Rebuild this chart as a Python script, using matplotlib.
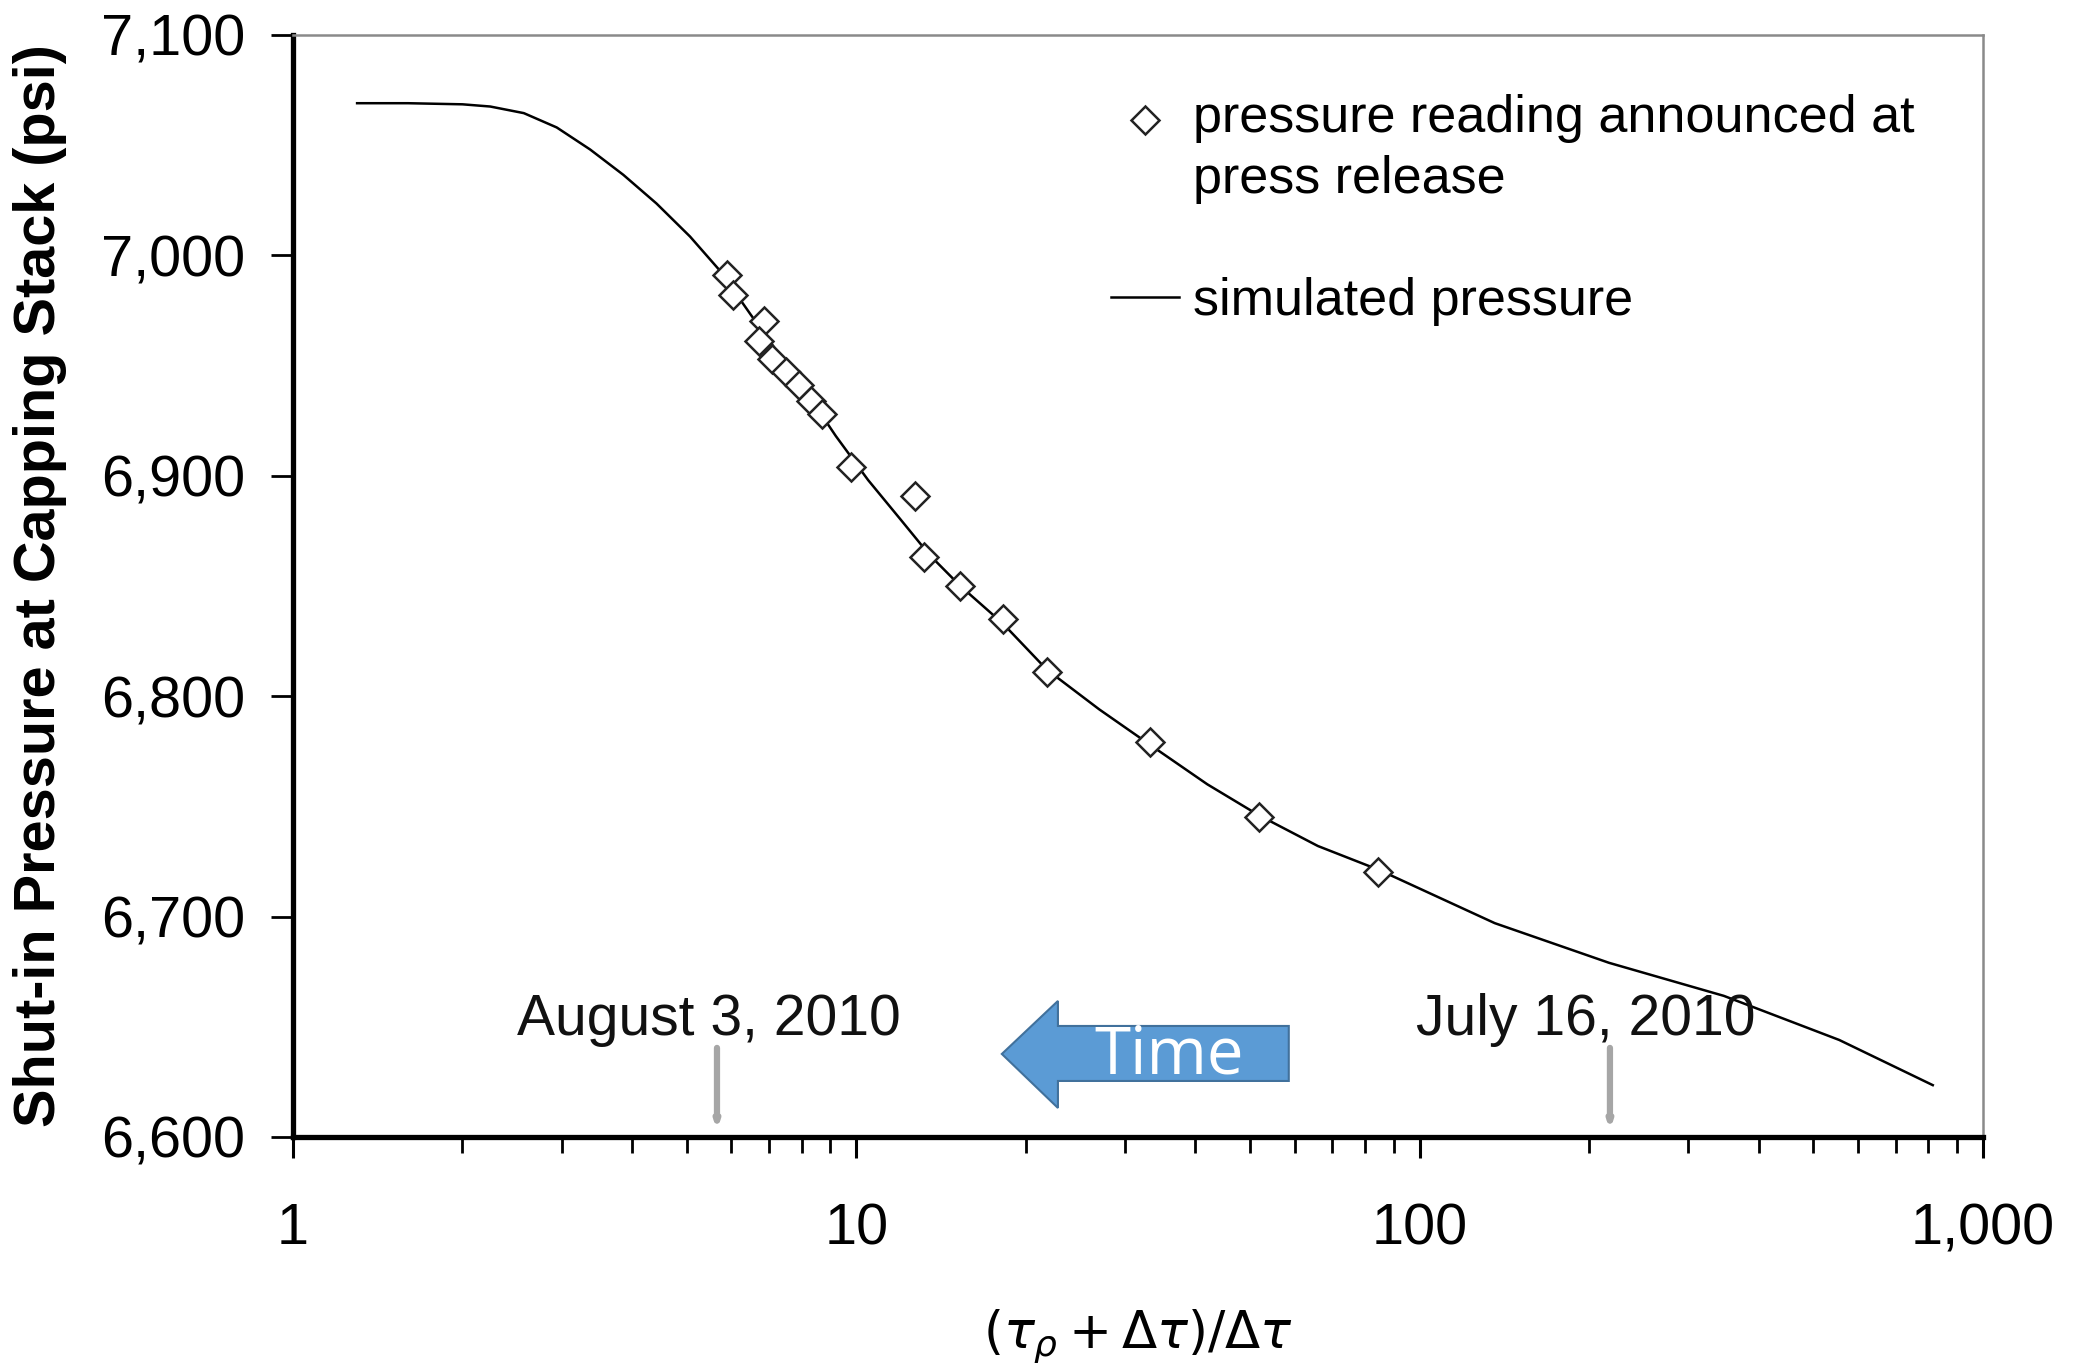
import numpy as np
import matplotlib.pyplot as plt
from matplotlib.legend_handler import HandlerLine2D
from matplotlib.patches import Polygon
from matplotlib.ticker import FixedLocator, FuncFormatter, LogLocator, NullFormatter

plt.rcParams['font.family'] = ['Liberation Sans', 'DejaVu Sans']
plt.rcParams['mathtext.fontset'] = 'dejavusans'

# Pressure readings announced at press releases
horner_obs = [5.9, 6.05, 6.85, 6.72, 7.1, 7.5, 7.9, 8.3, 8.7, 9.8,
              12.7, 13.2, 15.3, 18.2, 21.8, 33.2, 51.8, 84.4]
pressure_obs = [6991, 6982, 6970, 6961, 6953, 6947, 6941, 6934, 6928, 6904,
                6891, 6863, 6850, 6835, 6811, 6779, 6745, 6720]

# Simulated shut-in pressure
horner_sim = [1.3, 1.6, 2.0, 2.24, 2.57, 2.94, 3.37, 3.86, 4.42, 5.07, 5.73,
              6.5, 7.3, 8.2, 9.2, 10.5, 12.0, 13.5, 15.3, 18.2, 21.8, 27.0,
              33.2, 42.0, 51.8, 66.0, 85.0, 136, 217, 347, 556, 815]
pressure_sim = [7069, 7069, 7068.5, 7067.5, 7064.5, 7058, 7048, 7036.5, 7023.5,
                7008.5, 6993, 6973, 6955, 6937, 6918, 6898, 6880, 6864, 6850,
                6833, 6812, 6794, 6778, 6760, 6746, 6732, 6721, 6697, 6679,
                6664, 6644, 6623.5]

# Dates marked along the time axis
date_labels = ['August 3, 2010', 'July 16, 2010']
date_horner = [5.66, 217.8]
date_text_x = [5.48, 197.4]

y_ticks = [6600, 6700, 6800, 6900, 7000, 7100]
x_ticks = [1, 10, 100, 1000]


class FirstLineHandler(HandlerLine2D):
    """Put the legend marker next to the first line of a two-line label."""

    def __init__(self, shift, **kw):
        super().__init__(**kw)
        self.shift = shift

    def create_artists(self, legend, orig_handle, xdescent, ydescent,
                       width, height, fontsize, trans):
        return super().create_artists(legend, orig_handle, xdescent,
                                      ydescent - 2 * self.shift, width, height,
                                      fontsize, trans)


fig = plt.figure(figsize=(20.73, 13.68), dpi=100)
ax = fig.add_axes([0.1413, 0.1689, 0.8152, 0.8056])

line, = ax.plot(horner_sim, pressure_sim, color='black', lw=1.8,
                label='simulated pressure', zorder=3)
pts, = ax.plot(horner_obs, pressure_obs, linestyle='none', marker='D', ms=14,
               mfc='white', mec='#222222', mew=1.8,
               label='pressure reading announced at\npress release', zorder=4)

ax.set_xscale('log')
ax.set_xlim(1, 1000)
ax.set_ylim(6600, 7100)

ax.xaxis.set_major_locator(FixedLocator(x_ticks))
ax.xaxis.set_minor_locator(LogLocator(base=10, subs=np.arange(2, 10)))
ax.xaxis.set_minor_formatter(NullFormatter())
ax.xaxis.set_major_formatter(FuncFormatter(lambda v, p: f'{v:,.0f}'))
ax.yaxis.set_major_locator(FixedLocator(y_ticks))
ax.yaxis.set_major_formatter(FuncFormatter(lambda v, p: f'{v:,.0f}'))

ax.tick_params(axis='y', which='major', direction='out', length=15.8, width=2,
               pad=18.7, labelsize=41.5)
ax.tick_params(axis='x', which='major', direction='out', length=15, width=2.2,
               pad=32, labelsize=41.5)
ax.tick_params(axis='x', which='minor', direction='out', length=11.5, width=2)
ax.tick_params(top=False, right=False, which='both')

for side in ['left', 'bottom']:
    ax.spines[side].set_linewidth(3.8)
    ax.spines[side].set_color('black')
for side in ['top', 'right']:
    ax.spines[side].set_linewidth(1.8)
    ax.spines[side].set_color('#8a8a8a')

ax.set_ylabel('Shut-in Pressure at Capping Stack (psi)', fontsize=41.5,
              fontweight='bold', va='center')
ax.yaxis.set_label_coords(-0.1497, 0.5)
ax.set_xlabel(r'$(\tau_{\rho} + \Delta\tau)/\Delta\tau$', fontsize=37, va='center')
ax.xaxis.set_label_coords(0.5, -0.181)

# Legend: diamond entry first, then the simulated line
leg = ax.legend([pts, line], [pts.get_label(), line.get_label()],
                handler_map={pts: FirstLineHandler(shift=22)},
                loc='upper left', bbox_to_anchor=(0.472, 0.965),
                frameon=False, fontsize=37.5, handlelength=1.29,
                handletextpad=0.27, labelspacing=1.4, borderaxespad=0)
for t in leg.get_texts():
    t.set_linespacing(1.32)

# Date markers with arrows pointing down to the axis
for lab, xa, xt in zip(date_labels, date_horner, date_text_x):
    ax.text(xt, 6646.3, lab, fontsize=41, ha='center', va='baseline', color='#111111')
    ax.annotate('', xy=(xa, 6603), xytext=(xa, 6640.4),
                arrowprops=dict(arrowstyle='-|>,head_length=0.3,head_width=0.1',
                                fc='black', ec='#a6a6a6', lw=4.5, shrinkA=0, shrinkB=0))

# Block arrow labelled "Time"
arrow_pts = [(0.4195, 0.0753), (0.4527, 0.1234), (0.4527, 0.1007), (0.5893, 0.1007),
             (0.5893, 0.0508), (0.4527, 0.0508), (0.4527, 0.0263)]
ax.add_patch(Polygon(arrow_pts, closed=True, transform=ax.transAxes,
                     facecolor='#5b9bd5', edgecolor='#41719c', lw=1.5, zorder=5))
ax.text(0.5183, 0.073, 'Time', transform=ax.transAxes, fontsize=47,
        family=['Open Sans', 'DejaVu Sans'], color='white', ha='center', va='center',
        zorder=6)

fig.savefig('out.png', dpi=100)
